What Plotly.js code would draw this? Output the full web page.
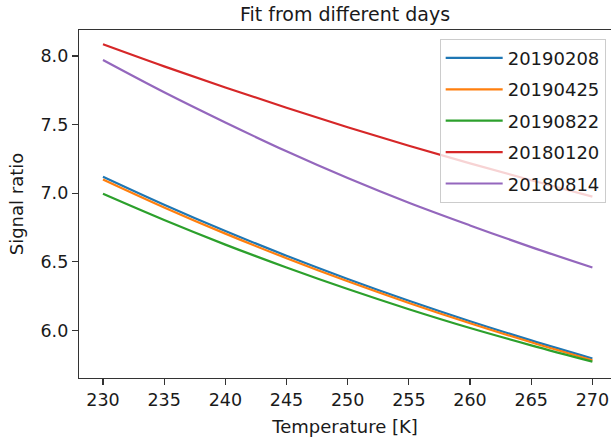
<!DOCTYPE html>
<html>
<head>
<meta charset="utf-8">
<script src="https://cdn.plot.ly/plotly-3.0.1.min.js"></script>
<style>html,body{margin:0;padding:0;background:#fff;}#chart{width:611px;height:440px;}</style>
</head>
<body>
<div id="chart"></div>
<script>
const temperature = [230, 235, 240, 245, 250, 255, 260, 265, 270];
const seriesNames = ["20190208", "20190425", "20190822", "20180120", "20180814"];
const s20190208 = [7.12, 6.916, 6.724, 6.544, 6.375, 6.216, 6.067, 5.927, 5.795];
const s20190425 = [7.10, 6.896, 6.705, 6.526, 6.358, 6.200, 6.052, 5.913, 5.782];
const s20190822 = [6.995, 6.804, 6.625, 6.458, 6.301, 6.154, 6.017, 5.891, 5.772];
const s20180120 = [8.085, 7.924, 7.770, 7.623, 7.480, 7.345, 7.217, 7.094, 6.975];
const s20180814 = [7.97, 7.735, 7.515, 7.305, 7.11, 6.93, 6.765, 6.607, 6.458];
const xTicks = [230, 235, 240, 245, 250, 255, 260, 265, 270];
const yTicks = [6.0, 6.5, 7.0, 7.5, 8.0];
const colors = ["#1f77b4", "#ff7f0e", "#2ca02c", "#d62728", "#9467bd"];

const allSeries = [s20190208, s20190425, s20190822, s20180120, s20180814];
const traces = allSeries.map((ys, i) => ({
  x: temperature, y: ys, type: "scatter", mode: "lines",
  name: seriesNames[i], legendgroup: seriesNames[i],
  line: {color: colors[i], width: 2.2, shape: "spline", smoothing: 1}
}));

const font = {family: "DejaVu Sans, sans-serif", color: "#1a1a1a"};
const layout = {
  width: 611, height: 440,
  margin: {l: 79, r: 0, t: 30, b: 62, pad: 0},
  paper_bgcolor: "#fff", plot_bgcolor: "#fff",
  font: Object.assign({size: 17}, font),
  title: {text: "Fit from different days", font: Object.assign({}, font, {size: 19}),
          x: 0.5, xref: "paper", xanchor: "center", y: 1, yref: "paper", yanchor: "bottom", pad: {b: 9}},
  xaxis: {
    range: [228.04, 271.52], tickvals: xTicks, ticktext: xTicks.map(String),
    showgrid: false, zeroline: false, showline: true, linecolor: "#333", linewidth: 1.2,
    mirror: true, ticks: "outside", ticklen: 6, tickwidth: 1.2, tickcolor: "#333",
    tickfont: Object.assign({}, font, {size: 17.5}),
    title: {text: "Temperature [K]", font: Object.assign({}, font, {size: 18}), standoff: 11}
  },
  yaxis: {
    range: [5.653, 8.189], tickvals: yTicks, ticktext: yTicks.map(v => v.toFixed(1)),
    showgrid: false, zeroline: false, showline: true, linecolor: "#333", linewidth: 1.2,
    mirror: false, ticks: "outside", ticklen: 6, tickwidth: 1.2, tickcolor: "#333",
    tickfont: Object.assign({}, font, {size: 17.5}),
    title: {text: "Signal ratio", font: Object.assign({}, font, {size: 18}), standoff: 12}
  },
  showlegend: true,
  legend: {
    x: 0.99, xanchor: "right", y: 0.975, yanchor: "top",
    bgcolor: "rgba(255,255,255,0.8)", bordercolor: "#cccccc", borderwidth: 1,
    font: Object.assign({}, font, {size: 18}), tracegroupgap: 5, itemwidth: 57
  }
};
Plotly.newPlot("chart", traces, layout, {displayModeBar: false, staticPlot: true});
</script>
</body>
</html>
